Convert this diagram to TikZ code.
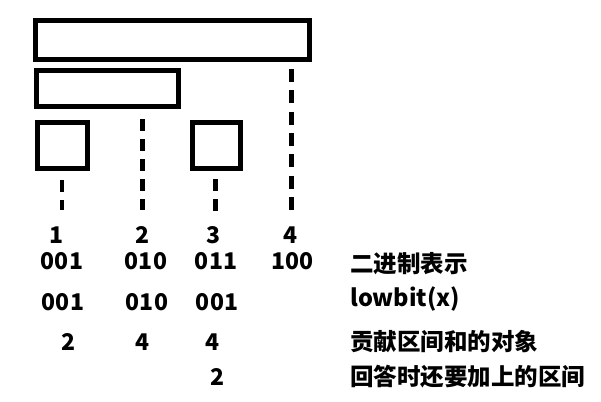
\documentclass[tikz,border=0pt]{standalone}
\usepackage{fontspec}
\setmainfont{Noto Sans CJK SC}
\begin{document}
\begin{tikzpicture}[x=1pt,y=-1pt,
  box/.style={draw,line width=5pt,inner sep=0pt},
  guide/.style={line width=4.5pt,dash pattern=on 12pt off 8pt},
  num/.style={inner sep=0pt,font=\bfseries\fontsize{23}{23}\selectfont},
  lbl/.style={inner sep=0pt,anchor=west,font=\bfseries\fontsize{23.5}{24}\selectfont}]
\useasboundingbox (0,0) rectangle (601,401);
% boxes (center, size = center-line distances)
\node[box,minimum width=274pt,minimum height=38.7pt] (r4) at (172.5,40.15) {};
\node[box,minimum width=142pt,minimum height=36pt] (r2) at (107.5,88.5) {};
\node[box,minimum width=50pt,minimum height=46pt] (r1) at (62.5,145.5) {};
\node[box,minimum width=47.5pt,minimum height=46pt] (r3) at (216.25,145.5) {};
% guide lines
\coordinate (g1t) at (62,180);   \coordinate (g1b) at (62,210);
\coordinate (g2t) at (142.5,119);\coordinate (g2b) at (142.5,210);
\coordinate (g3t) at (215.5,179);\coordinate (g3b) at (215.5,211);
\coordinate (g4t) at (291.5,69); \coordinate (g4b) at (291.5,210);
\draw[guide] (g1t) -- (g1b);
\draw[guide] (g2t) -- (g2b);
\draw[guide] (g3t) -- (g3b);
\draw[guide,dash pattern=on 13pt off 8.3pt] (g4t) -- (g4b);
% index row
\node[num] (i1) at (57,235) {1};
\node[num] (i2) at (142.5,235) {2};
\node[num] (i3) at (213,235) {3};
\node[num] (i4) at (290,235) {4};
% binary row
\node[num] (b1) at (62,261) {001};
\node[num] (b2) at (146,261) {010};
\node[num] (b3) at (216,261) {011};
\node[num] (b4) at (292.5,261) {100};
% lowbit row
\node[num] (l1) at (63,302) {001};
\node[num] (l2) at (147,302) {010};
\node[num] (l3) at (217,302) {001};
% contribution row
\node[num] (c1) at (68.5,342) {2};
\node[num] (c2) at (143,342) {4};
\node[num] (c3) at (212,342) {4};
% query row
\node[num] (q3) at (217.5,377) {2};
% labels
\node[lbl] (t1) at (350,264) {二进制表示};
\node[lbl] (t2) at (350,299) {lowbit(x)};
\node[lbl] (t3) at (350,342) {贡献区间和的对象};
\node[lbl] (t4) at (350,377) {回答时还要加上的区间};
\end{tikzpicture}
\end{document}
